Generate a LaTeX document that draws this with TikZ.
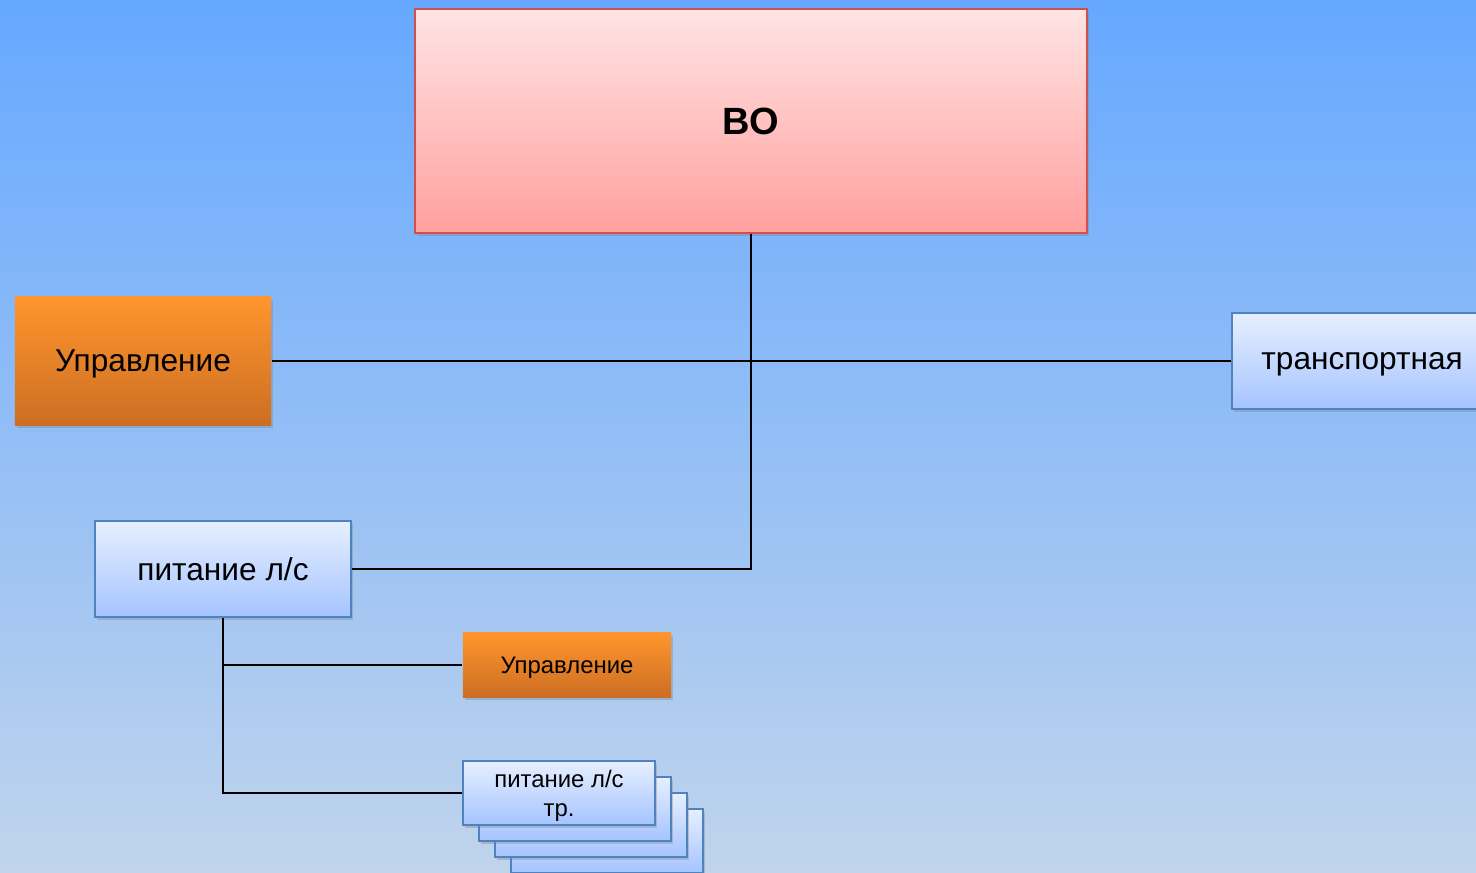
\documentclass[tikz,border=0pt]{standalone}
\usepackage{fontspec}
\setmainfont{Liberation Sans}
\usetikzlibrary{shadows}

\definecolor{bgtop}{RGB}{102,168,255}
\definecolor{bgbot}{RGB}{192,212,236}
\definecolor{redtop}{RGB}{255,228,228}
\definecolor{redbot}{RGB}{255,160,158}
\definecolor{rededge}{RGB}{208,80,77}
\definecolor{ortop}{RGB}{255,149,45}
\definecolor{orbot}{RGB}{204,110,35}
\definecolor{bluetop}{RGB}{230,239,255}
\definecolor{bluebot}{RGB}{165,196,255}
\definecolor{blueedge}{RGB}{80,130,190}

\begin{document}
\begin{tikzpicture}[x=0.01cm, y=-0.01cm,
   font=\fontsize{9}{11}\selectfont,
   box/.style={line width=0.6pt, inner sep=0pt, text depth=0pt,
      drop shadow={shadow xshift=0.6pt, shadow yshift=-0.9pt, opacity=0.35}},
   redbox/.style={box, draw=rededge, top color=redtop, bottom color=redbot},
   orangebox/.style={box, draw=none, top color=ortop, bottom color=orbot},
   bluebox/.style={box, draw=blueedge, top color=bluetop, bottom color=bluebot},
   smalltext/.style={font=\fontsize{6.8}{8.3}\selectfont},
   link/.style={line width=0.45pt, black}]

   % background
   \useasboundingbox (0,0) rectangle (1476,873);
   \shade[top color=bgtop, bottom color=bgbot] (0,0) rectangle (1476,873);

   % main boxes
   \node[redbox, minimum width=6.72cm, minimum height=2.24cm] (vo) at (751,121)
      {\fontsize{10.8}{13}\selectfont\bfseries ВО};
   \node[orangebox, minimum width=2.56cm, minimum height=1.28cm] (upr) at (143,361) {Управление};
   \node[bluebox, minimum width=2.6cm, minimum height=0.96cm, anchor=west] (trans) at (1231,361) {транспортная};
   \node[bluebox, minimum width=2.56cm, minimum height=0.96cm] (pit) at (223,569) {питание л/с};

   % lower level
   \node[orangebox, smalltext, minimum width=2.08cm, minimum height=0.64cm] (uprs) at (567,665) {Управление};
   \foreach \k in {3,2,1}
      \node[bluebox, minimum width=1.92cm, minimum height=0.64cm] (stack\k) at (559+16*\k,793+16*\k) {};
   \node[bluebox, smalltext, align=center, minimum width=1.92cm, minimum height=0.64cm] (pittr) at (559,793)
      {питание л/с\\тр.};

   % connectors
   \draw[link] (upr.east) -- (trans.west);
   \draw[link] (vo.south) |- (pit.east);
   \draw[link] (pit.south) |- (uprs.west);
   \draw[link] (pit.south) |- (pittr.west);

\end{tikzpicture}
\end{document}
